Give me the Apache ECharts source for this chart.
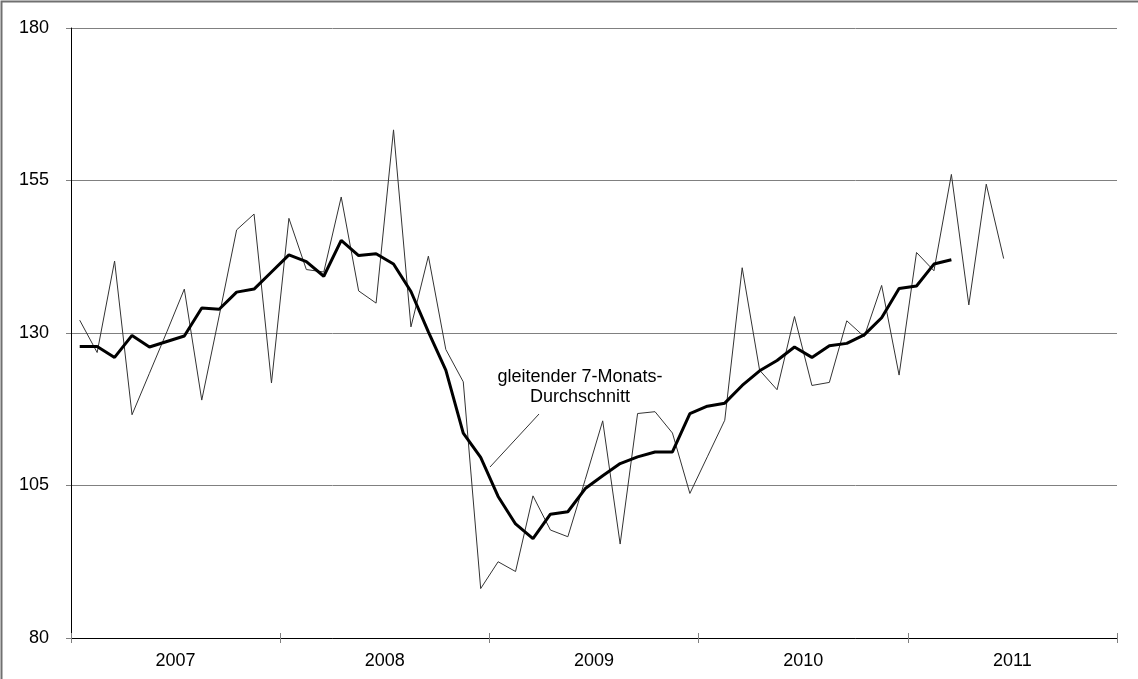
<!DOCTYPE html>
<html>
<head>
<meta charset="utf-8">
<script src="https://cdn.jsdelivr.net/npm/echarts@6/dist/echarts.min.js"></script>
<style>
  html, body { margin: 0; padding: 0; background: #fff; }
  #chart { width: 1138px; height: 679px; }
</style>
</head>
<body>
<div id="chart"></div>
<script>
// tick labels / categories
var years = ['2007', '2008', '2009', '2010', '2011']
var months = []
years.forEach(function (y) {
    for (var m = 1; m <= 12; m++) months.push(y + '-' + (m < 10 ? '0' + m : m))
})

// monthly values (Jan 2007 - Jun 2011)
var rawValues = [
    132.1, 126.8, 141.8, 116.6, 123.4, 130.2, 137.2, 119, 132.8, 146.9, 149.5, 121.8,
    148.8, 140.4, 140, 152.3, 136.9, 134.9, 163.3, 131, 142.6, 127.3, 122, 88.1,
    92.5, 90.9, 103.3, 97.7, 96.6, 106, 115.6, 95.4, 116.8, 117.1, 113.6, 103.7,
    109.7, 115.7, 140.7, 123.9, 120.7, 132.7, 121.4, 121.9, 132, 129.4, 137.8, 123.1,
    143.2, 140.2, 156, 134.6, 154.4, 142.2
]

// gleitender 7-Monats-Durchschnitt (Jan 2007 - Mar 2011)
var avgValues = [
    127.8, 127.8, 126, 129.6, 127.7, 128.6, 129.5, 134.1, 133.9, 136.7, 137.2, 140,
    142.8, 141.7, 139.3, 145.2, 142.7, 143, 141.3, 136.8, 130.2, 123.9, 113.6, 109.6,
    103.2, 98.7, 96.3, 100.3, 100.7, 104.5, 106.6, 108.6, 109.7, 110.5, 110.5, 116.8,
    118, 118.5, 121.4, 123.8, 125.5, 127.7, 126, 127.9, 128.3, 129.7, 132.5, 137.3,
    137.7, 141.3, 142
]

var yTicks = [80, 105, 130, 155, 180]

var chart = echarts.init(document.getElementById('chart'))
var font = 'Liberation Sans, Arial, sans-serif'

var option = {
    animation: false,
    grid: { left: 71, right: 21, top: 28, bottom: 41 },
    xAxis: [{
        type: 'category',
        data: months,
        boundaryGap: true,
        axisLine: { show: true, lineStyle: { color: '#000', width: 1 } },
        axisTick: { show: false },
        axisLabel: { show: false }
    }, {
        type: 'category',
        data: years,
        position: 'bottom',
        boundaryGap: true,
        axisLine: { show: false },
        axisTick: { show: true, length: 5, lineStyle: { color: '#808080' } },
        axisLabel: { show: true, color: '#000', fontFamily: font, fontSize: 18, margin: 14 }
    }, {
        type: 'category',
        data: years,
        position: 'bottom',
        boundaryGap: true,
        axisLine: { show: false },
        axisTick: { show: true, inside: true, length: 5, lineStyle: { color: '#808080' } },
        axisLabel: { show: false }
    }],
    yAxis: {
        type: 'value',
        min: yTicks[0],
        max: yTicks[yTicks.length - 1],
        interval: 25,
        axisLine: { show: true, lineStyle: { color: '#000', width: 1 } },
        axisTick: { show: true, length: 5, lineStyle: { color: '#808080' } },
        axisLabel: { color: '#000', fontFamily: font, fontSize: 18, margin: 22 },
        splitLine: { show: true, lineStyle: { color: '#808080', width: 1 } }
    },
    series: [{
        name: 'Index',
        type: 'line',
        data: rawValues,
        symbol: 'none',
        lineStyle: { color: '#333', width: 1 },
        z: 2
    }, {
        name: 'gleitender 7-Monats-Durchschnitt',
        type: 'line',
        data: avgValues,
        symbol: 'none',
        lineStyle: { color: '#000', width: 3 },
        z: 3
    }],
    graphic: [{
        type: 'rect',
        shape: { x: 1.5, y: 1.5, width: 1300, height: 1300 },
        style: { fill: 'none', stroke: '#707070', lineWidth: 2 }
    }, {
        type: 'text',
        x: 580, y: 387,
        style: {
            text: 'gleitender 7-Monats-\nDurchschnitt',
            font: '18px ' + font,
            fill: '#000',
            align: 'center',
            verticalAlign: 'middle',
            lineHeight: 20
        }
    }, {
        type: 'line',
        shape: { x1: 539, y1: 414, x2: 490, y2: 467 },
        style: { stroke: '#333', lineWidth: 1 }
    }]
}

chart.setOption(option)
</script>
</body>
</html>
